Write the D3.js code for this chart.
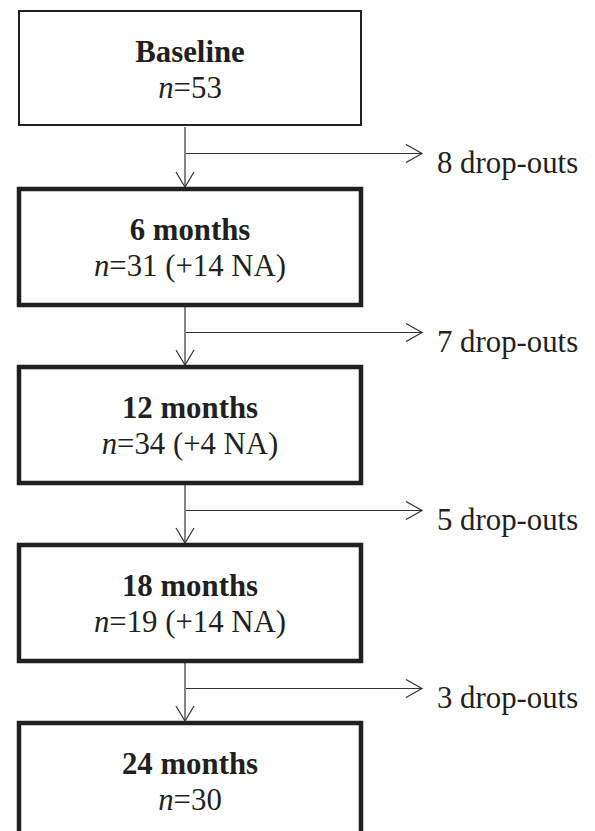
<!DOCTYPE html>
<html lang="en">
<head>
  <meta charset="UTF-8">
  <title>Follow-up flowchart</title>
  <style>
  body { margin: 0; background: #fff; }
  svg { display: block; }
  text { font-family: "Liberation Serif", "Times New Roman", serif; fill: #231f20; }
  </style>
</head>
<body>
  <svg></svg>
  <script src="https://cdnjs.cloudflare.com/ajax/libs/d3/7.8.5/d3.min.js"></script>
  <script>
  // data
  var stages = ["Baseline", "6 months", "12 months", "18 months", "24 months"];
  var nValues = [53, 31, 34, 19, 30];
  var naValues = [null, 14, 4, 14, null];
  var dropouts = [8, 7, 5, 3];

  var width = 595;
  var height = 831;
  var boxH = 116;
  var fontSize = 30.8;

  // index -> box top
  var yScale = d3.scaleLinear()
                .domain([0, stages.length - 1])
                .range([11, 11 + 178 * (stages.length - 1)]);
  var xScale = d3.scaleLinear()
                .domain([0, 1])
                .range([19, 361]);
  var midX = 185;

  var svg = d3.select("svg")
        .attr("width", width)
        .attr("height", height);

  var stageData = stages.map((s, i) => ({ label: s, n: nValues[i], na: naValues[i], i: i }));

  // boxes
  svg.selectAll("rect.box")
    .data(stageData)
    .enter()
    .append("rect")
      .attr("class", "box")
      .attr("x", xScale(0))
      .attr("y", d => yScale(d.i))
      .attr("width", xScale(1) - xScale(0))
      .attr("height", d => d.i == 0 ? boxH - 2 : boxH)
      .attr("fill", "#fff")
      .attr("stroke", "#231f20")
      .attr("stroke-width", d => d.i == 0 ? 2 : 4.5);

  // titles
  svg.selectAll("text.title")
    .data(stageData)
    .enter()
    .append("text")
      .attr("class", "title")
      .attr("x", (xScale(0) + xScale(1)) / 2)
      .attr("y", d => yScale(d.i) + 51)
      .attr("text-anchor", "middle")
      .attr("font-weight", "bold")
      .attr("font-size", fontSize)
      .text(d => d.label);

  // n lines
  var nText = svg.selectAll("text.n")
    .data(stageData)
    .enter()
    .append("text")
      .attr("class", "n")
      .attr("x", (xScale(0) + xScale(1)) / 2)
      .attr("y", d => yScale(d.i) + 87)
      .attr("text-anchor", "middle")
      .attr("font-size", fontSize);
  nText.append("tspan").attr("font-style", "italic").text("n");
  nText.append("tspan").text(d => "=" + d.n + (d.na != null ? " (+" + d.na + " NA)" : ""));

  // connectors
  var links = dropouts.map((v, i) => {
    var bottom = yScale(i) + (i == 0 ? boxH - 2 : boxH);
    var top = yScale(i + 1);
    return { v: v, bottom: bottom, top: top, side: (bottom + top) / 2 - 3.5 };
  });

  var g = svg.selectAll("g.link")
    .data(links)
    .enter()
    .append("g")
      .attr("class", "link")
      .attr("fill", "none")
      .attr("stroke", "#333")
      .attr("stroke-width", 1.2);

  g.append("line")
    .attr("x1", midX).attr("x2", midX)
    .attr("y1", d => d.bottom + 2).attr("y2", d => d.top - 2);
  g.append("path")
    .attr("d", d => `M${midX - 9},${d.top - 17}L${midX},${d.top - 2}L${midX + 9},${d.top - 17}`);
  g.append("line")
    .attr("x1", midX + 1).attr("x2", 422)
    .attr("y1", d => d.side).attr("y2", d => d.side);
  g.append("path")
    .attr("d", d => `M406,${d.side - 9}L422,${d.side}L406,${d.side + 9}`);

  svg.selectAll("text.drop")
    .data(links)
    .enter()
    .append("text")
      .attr("class", "drop")
      .attr("x", 437)
      .attr("y", d => d.side + 19)
      .attr("font-size", fontSize)
      .text(d => d.v + " drop-outs");
  </script>
</body>
</html>
